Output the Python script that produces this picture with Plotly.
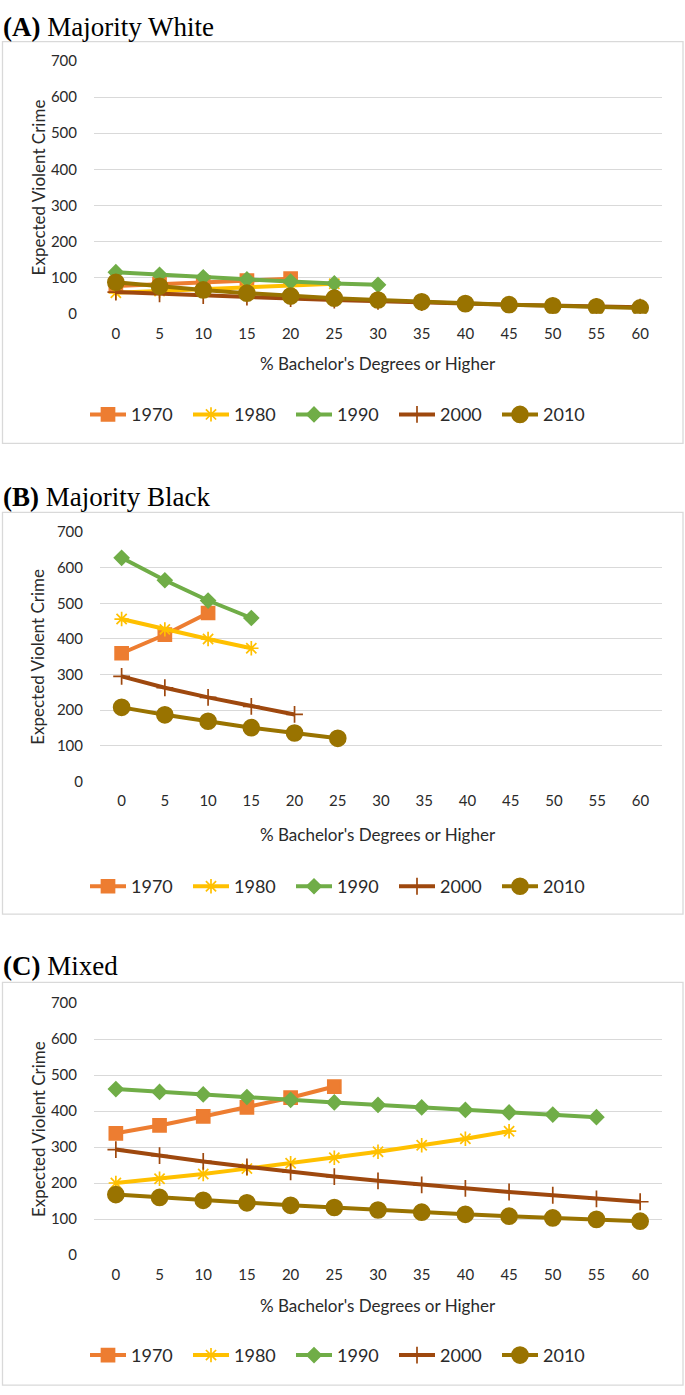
import plotly.graph_objects as go

W, H = 685, 1395

x_vals = [0, 5, 10, 15, 20, 25, 30, 35, 40, 45, 50, 55, 60]
years = ["1970", "1980", "1990", "2000", "2010"]

# Panel A: Majority White
A_1970 = [77, 82, 87, 92, 97]
A_1980 = [58, 63, 68, 73, 78, 83]
A_1990 = [115, 108, 101, 95, 89, 84, 80]
A_2000 = [60, 55, 50, 46, 42, 38, 34, 31, 28, 25, 22, 20, 18]
A_2010 = [87, 76, 66, 57, 49, 43, 38, 33, 28, 25, 22, 19, 16]

# Panel B: Majority Black
B_1970 = [360, 412, 473]
B_1980 = [456, 427, 400, 374]
B_1990 = [628, 565, 508, 459]
B_2000 = [295, 263, 236, 211, 188]
B_2010 = [208, 187, 169, 151, 136, 121]

# Panel C: Mixed
C_1970 = [338, 360, 385, 410, 437, 468]
C_1980 = [200, 212, 225, 240, 255, 270, 287, 305, 323, 344]
C_1990 = [461, 453, 446, 439, 431, 424, 417, 410, 403, 396, 390, 383]
C_2000 = [293, 276, 260, 245, 231, 218, 206, 195, 185, 175, 166, 156, 148]
C_2010 = [168, 160, 152, 145, 138, 132, 125, 119, 113, 108, 103, 99, 94]

panel_titles = ["<b>(A)</b> Majority White", "<b>(B)</b> Majority Black", "<b>(C)</b> Mixed"]
x_title = "% Bachelor's Degrees or Higher"
y_title = "Expected Violent Crime"
y_ticks = [0, 100, 200, 300, 400, 500, 600, 700]

colors = ["#ED7D31", "#FFC000", "#70AD47", "#9E480E", "#997300"]
symbols = ["square", "asterisk-open", "diamond", "cross-thin-open", "circle"]
msizes = [13, 12, 11, 12, 16]

panels = [
    [A_1970, A_1980, A_1990, A_2000, A_2010],
    [B_1970, B_1980, B_1990, B_2000, B_2010],
    [C_1970, C_1980, C_1990, C_2000, C_2010],
]

geo = [
    dict(top=51.7, bot=307.7, left=94, right=662, title_y=17, xt_y=358, leg_y=410, box=(32, 439)),
    dict(top=529, bot=781.5, left=100, right=662, title_y=493, xt_y=835, leg_y=888, box=(509, 916)),
    dict(top=1006, bot=1261.3, left=94, right=662, title_y=968, xt_y=1312, leg_y=1363, box=(985, 1393)),
]

def py(p):
    return 1 - p / H

def px(p):
    return p / W

fig = go.Figure()
txt_col = "#2a2a2a"
sans = "Lato, Open Sans, sans-serif"
tick_font = dict(family=sans, size=15, color=txt_col)

layout = dict(
    width=W, height=H,
    margin=dict(l=0, r=0, t=0, b=0),
    paper_bgcolor="white", plot_bgcolor="white",
    showlegend=True,
    annotations=[], shapes=[],
)

for i, (series, g) in enumerate(zip(panels, geo)):
    suffix = "" if i == 0 else str(i + 1)
    xa, ya = "x" + suffix, "y" + suffix
    leg = "legend" + suffix
    for j, vals in enumerate(series):
        fig.add_trace(go.Scatter(
            x=x_vals[:len(vals)], y=vals, name=years[j],
            mode="lines+markers",
            line=dict(color=colors[j], width=4),
            marker=dict(symbol=symbols[j], size=msizes[j], color=colors[j],
                        line=dict(color=colors[j], width=1.7)),
            xaxis=xa, yaxis=ya, legend=leg, hoverinfo="x+y+name",
        ))
    layout["xaxis" + suffix] = dict(
        domain=[px(g["left"]), px(g["right"])], anchor=ya,
        range=[-2.5, 62.5], tickmode="array", tickvals=x_vals,
        ticktext=[str(v) for v in x_vals], showgrid=False, zeroline=False,
        showline=False, ticks="outside", ticklen=6, tickcolor="rgba(0,0,0,0)",
        tickfont=tick_font, fixedrange=True,
    )
    layout["yaxis" + suffix] = dict(
        domain=[py(g["bot"]), py(g["top"])], anchor=xa,
        range=[0, 700], tickmode="array", tickvals=y_ticks,
        showgrid=True, gridcolor="#D9D9D9", gridwidth=1.3, zeroline=False,
        showline=False, ticks="outside", ticklen=13, tickcolor="rgba(0,0,0,0)",
        tickfont=tick_font, fixedrange=True,
    )
    layout[leg] = dict(
        orientation="h", x=0.5, xanchor="center", y=py(g["leg_y"]), yanchor="middle",
        font=dict(family=sans, size=18, color=txt_col),
        entrywidth=52, entrywidthmode="pixels", itemwidth=36,
        bgcolor="rgba(0,0,0,0)", tracegroupgap=0,
    )
    layout["annotations"].append(dict(
        text=panel_titles[i], x=px(1), y=py(g["title_y"]), xref="paper", yref="paper",
        xanchor="left", yanchor="middle", showarrow=False,
        font=dict(family="Liberation Serif, Times New Roman, serif", size=27, color="black"),
    ))
    layout["annotations"].append(dict(
        text=x_title, x=px(378), y=py(g["xt_y"]), xref="paper", yref="paper",
        xanchor="center", yanchor="middle", showarrow=False,
        font=dict(family=sans, size=17, color=txt_col),
    ))
    layout["annotations"].append(dict(
        text=y_title, x=px(38), y=py((g["top"] + g["bot"]) / 2), xref="paper", yref="paper",
        xanchor="center", yanchor="middle", showarrow=False, textangle=-90,
        font=dict(family=sans, size=17, color=txt_col),
    ))
    layout["shapes"].append(dict(
        type="rect", xref="paper", yref="paper",
        x0=px(2.5), x1=px(683), y0=py(g["box"][1]), y1=py(g["box"][0]),
        line=dict(color="#D9D9D9", width=1.3), fillcolor="rgba(0,0,0,0)", layer="below",
    ))

fig.update_layout(**layout)
fig.write_html("out.html", config={"displayModeBar": False},
               post_script="document.body.style.margin='0';")
